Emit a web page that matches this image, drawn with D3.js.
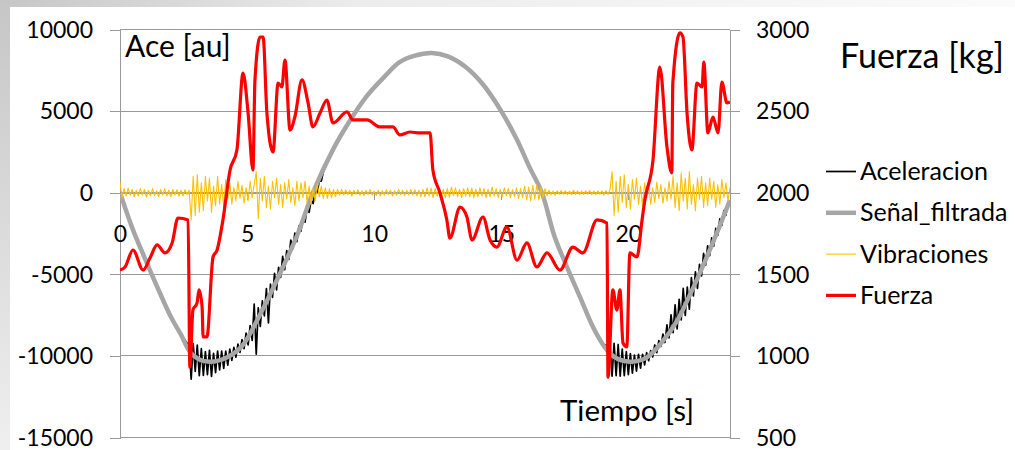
<!DOCTYPE html>
<html><head><meta charset="utf-8">
<script src="https://cdn.jsdelivr.net/npm/d3@7"></script>
<style>body{margin:0;background:#fff;} svg{display:block;} text{font-family:Lato,"Open Sans",sans-serif;fill:#000;}</style>
</head><body>
<svg id="c" width="1015" height="450"></svg>
<script>
// ---------------- data ----------------
const leftTicks = [-15000, -10000, -5000, 0, 5000, 10000];
const rightTicks = [500, 1000, 1500, 2000, 2500, 3000];
const xTicks = [0, 5, 10, 15, 20];
const seriesNames = ["Aceleracion", "Señal_filtrada", "Vibraciones", "Fuerza"];

// Señal_filtrada (left axis)
const filtT = [0,0.5,1.0,1.5,2.0,2.4,2.75,3.1,3.54,4.2,4.8,5.5,6.4,7.0,7.59,8.4,9.0,9.7,10.4,11.0,11.6,12.27,12.9,13.6,14.3,15.0,15.6,16.1,16.6,17.1,17.6,18.1,18.6,19.0,19.28,19.6,20.1,20.7,21.3,21.9,22.5,23.0,23.5,24.0];
const filtV = [0,-2230,-4100,-5900,-7600,-8700,-9750,-10200,-10360,-10100,-9400,-7500,-4600,-2500,0,2700,4300,5900,7100,8000,8400,8560,8350,7700,6600,5000,3300,1600,0,-2700,-4600,-6400,-8200,-9300,-9850,-10200,-10360,-10120,-9200,-7900,-6000,-4250,-2400,-450];

// Aceleracion (left axis)
const accHeadT = [0,0.5,1.0,1.5,2.0,2.4];
const accHeadV = [0,-2230,-4100,-5900,-7600,-8700];
const accSeg1Start = 2.72, accSeg2Start = 19.28, accStep = 0.08;
const accSeg1V = [-9400,-11430,-9250,-10950,-9340,-11210,-9560,-11200,-9730,-11150,
  -9660,-11260,-9850,-11030,-9700,-10860,-9710,-10760,-9710,-10560,
  -9580,-10280,-9480,-10080,-9280,-9780,-9000,-9550,-8600,-9330,
  -8150,-9050,-6830,-9900,-7050,-8200,-6630,-7550,-5870,-7980,
  -5600,-6420,-4940,-5950,-4570,-5190,-3900,-4720,-3550,-4080,
  -2900,-3430,-2470,-3000,-2030,-2360,-1490,-1810,-980,-1200,
  -460,-670,150,50,710,710,1260];
const accMidT = [8.4,9.0,9.7,10.4,11.0,11.6,12.27,12.9,13.6,14.3,15.0,15.6,16.1,16.6,17.1,17.6,18.1,18.6,19.0];
const accMidV = [2750,4250,5950,7050,8050,8350,8600,8300,7750,6550,5050,3250,1650,-50,-2650,-4650,-6350,-8250,-9300];
const accSeg2V = [-9350,-11240,-9230,-11210,-9300,-11240,-9580,-11210,-9730,-11150,
  -9860,-11060,-9950,-10930,-9900,-10750,-9900,-10550,-9800,-10300,
  -9680,-10060,-9330,-9800,-9060,-9420,-8660,-9180,-8100,-8900,
  -7490,-8580,-6870,-8350,-6530,-7800,-5860,-7520,-5780,-7140,
  -5200,-6330,-4850,-5870,-4390,-5100,-3720,-4440,-3250,-3860,
  -2770,-3280,-2190,-2600,-1600,-2000,-1090,-1380,-570,-550];

// Vibraciones (left axis), sampled every 0.08 s from t = 0
const vibStep = 0.08;
const vibV = [650,-300,250,-200,280,-150,200,-250,150,-200,
  250,-150,200,-280,150,-200,250,-180,120,-250,
  200,-150,250,-200,150,-250,200,-150,180,-220,
  150,-200,180,-120,150,-1650,1000,-1400,1100,-1200,
  600,-1100,1000,-500,900,-1200,400,-800,1000,-700,
  500,-900,800,-400,600,-700,300,-500,700,-350,
  450,-650,300,-500,700,-300,500,1300,-1600,900,
  -500,1000,-900,400,-1000,700,-300,900,-700,500,
  -900,600,-400,800,-600,300,-800,700,-500,600,
  -300,700,-600,400,-700,300,-500,550,-250,400,
  -350,300,-350,250,-300,200,-250,200,-150,200,
  -150,180,-120,150,-200,150,-100,180,-150,120,
  -180,150,-120,200,-150,100,-180,150,-200,120,
  -150,180,-100,150,-200,120,-150,200,-120,150,
  -180,150,-120,200,-150,180,-200,150,-250,200,
  -250,300,-200,280,-300,250,-220,300,-280,200,
  -300,250,-280,350,-200,300,-250,200,-300,250,
  -200,300,-250,280,-300,200,-250,300,-200,250,
  -300,200,-250,350,-200,250,-300,200,-250,300,
  -200,250,-300,200,-250,300,-350,250,-300,400,
  -450,350,-500,450,-400,500,-450,350,-300,250,
  -200,150,-120,100,-150,120,-100,130,-100,120,
  -130,100,-120,150,-100,120,-130,100,-110,120,
  -100,130,-120,100,-130,110,-100,120,-150,130,
  -120,200,1300,-1400,700,-1200,1000,-600,1100,-900,
  500,-1000,800,-400,900,-700,400,-800,600,-300,
  500,-700,300,-600,650,-350,500,-650,300,-500,
  700,-400,1000,-900,600,-1100,1200,-500,900,-1000,
  1300,-700,500,-1100,900,-400,1000,-900,600,-800,
  900,-400,700,-900,500,-700,800,-300,600,-500,
  300];

// Fuerza (right axis, kg)
const fuerzaT = [0,0.2,0.51,0.91,1.18,1.46,1.77,2.05,2.28,2.68,
  2.75,2.87,3.03,3.11,3.23,3.27,3.42,3.66,3.82,4.05,
  4.33,4.6,4.84,5.04,5.23,5.31,5.51,5.63,5.78,6.02,
  6.22,6.37,6.49,6.69,6.88,7.16,7.4,7.59,7.87,8.14,
  8.38,8.93,9.17,9.72,10.23,10.74,11.01,11.41,11.8,12.2,
  12.31,12.59,12.86,12.98,13.38,13.65,13.85,14.28,14.56,14.83,
  15.22,15.62,16.01,16.4,16.8,17.31,17.82,18.21,18.77,19.16,
  19.2,19.39,19.55,19.67,19.79,19.94,20.06,20.34,20.54,20.65,
  20.97,21.24,21.52,21.71,21.75,22.03,22.15,22.31,22.5,22.7,
  22.9,22.97,23.13,23.33,23.53,23.68,23.88,24.0];
const fuerzaV = [1526,1545,1649,1526,1600,1680,1631,1692,1845,1833,
  932,1281,1324,1404,1300,1116,1116,1606,1649,1833,
  2139,2262,2733,2488,2139,2691,2954,2954,2488,2249,
  2672,2648,2813,2384,2464,2691,2550,2403,2488,2568,
  2427,2495,2446,2446,2403,2403,2354,2372,2366,2366,
  2139,1998,1833,1722,1912,1851,1710,1851,1710,1667,
  1790,1587,1692,1545,1631,1526,1667,1631,1833,1814,
  870,1404,1281,1404,1079,1055,1631,1606,1833,1955,
  2200,2770,2280,2121,2672,2979,2954,2488,2262,2672,
  2648,2801,2366,2464,2366,2678,2550,2556];

// ---------------- chart ----------------
const svg = d3.select("#c");
const W = 1015, H = 450;
const plot = {left: 120, right: 730, top: 29.5, bottom: 437.5};

// slide-like frame
const defs = svg.append("defs");
const g1 = defs.append("linearGradient").attr("id","topg").attr("x1","0").attr("x2","1").attr("y1","0").attr("y2","0");
g1.append("stop").attr("offset","0").attr("stop-color","#c6c6c6");
g1.append("stop").attr("offset","0.35").attr("stop-color","#ececec");
g1.append("stop").attr("offset","1").attr("stop-color","#fbfbfb");
const g2 = defs.append("linearGradient").attr("id","leftg").attr("x1","0").attr("x2","0").attr("y1","0").attr("y2","1");
g2.append("stop").attr("offset","0").attr("stop-color","#c6c6c6");
g2.append("stop").attr("offset","1").attr("stop-color","#efefef");
svg.append("rect").attr("width",W).attr("height",H).attr("fill","#fff");
svg.append("rect").attr("x",0).attr("y",0).attr("width",W).attr("height",7).attr("fill","url(#topg)");
svg.append("rect").attr("x",0).attr("y",0).attr("width",10).attr("height",H).attr("fill","url(#leftg)");

const x = d3.scaleLinear().domain([0, 24]).range([plot.left, plot.right]);
const yL = d3.scaleLinear().domain([-15000, 10000]).range([plot.bottom, plot.top]);
const yR = d3.scaleLinear().domain([500, 3000]).range([plot.bottom, plot.top]);

const gridC = "#9a9a9a";
const fmt = d => String(d);
// horizontal gridlines
svg.append("g").selectAll("line").data(leftTicks).join("line")
  .attr("x1", plot.left).attr("x2", plot.right)
  .attr("y1", d => yL(d)).attr("y2", d => yL(d))
  .attr("stroke", gridC).attr("stroke-width", 1).attr("shape-rendering","crispEdges");

// left axis
const axL = svg.append("g").attr("transform", `translate(${plot.left},0)`)
  .call(d3.axisLeft(yL).tickValues(leftTicks).tickSize(10).tickPadding(17).tickFormat(fmt));
// right axis
const axR = svg.append("g").attr("transform", `translate(${plot.right},0)`)
  .call(d3.axisRight(yR).tickValues(rightTicks).tickSize(10).tickPadding(16).tickFormat(fmt));
// x axis at zero
const axX = svg.append("g").attr("transform", `translate(0,${yL(0)})`)
  .call(d3.axisBottom(x).tickValues(xTicks).tickSize(7).tickPadding(26).tickFormat(fmt));
[axL, axR, axX].forEach(a => {
  a.select(".domain").attr("stroke", gridC).attr("shape-rendering","crispEdges");
  a.selectAll(".tick line").attr("stroke", gridC).attr("shape-rendering","crispEdges");
  a.selectAll(".tick text").attr("font-family","Lato").attr("font-size", 23).attr("fill","#000");
});
axL.selectAll(".tick text").attr("dy", "0.34em");
axR.selectAll(".tick text").attr("dy", "0.34em");
axX.select(".domain").attr("d", `M${plot.left},0.5H${plot.right}`);
axX.selectAll(".tick").filter(d => d === 0).select("line").remove();

// clip
defs.append("clipPath").attr("id","clip").append("rect")
  .attr("x", plot.left).attr("y", plot.top - 2).attr("width", plot.right - plot.left).attr("height", plot.bottom - plot.top + 4);
const lines = svg.append("g").attr("clip-path","url(#clip)");

const accData = [
  ...accHeadT.map((t,i) => [t, accHeadV[i]]),
  ...accSeg1V.map((v,i) => [accSeg1Start + accStep*i, v]),
  ...accMidT.map((t,i) => [t, accMidV[i]]),
  ...accSeg2V.map((v,i) => [accSeg2Start + accStep*i, v])
];
const filtData = filtT.map((t,i) => [t, filtV[i]]);
const vibData = vibV.map((v,i) => [vibStep*i, v]);
const fuerzaData = fuerzaT.map((t,i) => [t, fuerzaV[i]]);

const lineL = d3.line().x(d => x(d[0])).y(d => yL(d[1]));
const lineLSmooth = d3.line().x(d => x(d[0])).y(d => yL(d[1])).curve(d3.curveCatmullRom.alpha(0.5));
const lineR = d3.line().x(d => x(d[0])).y(d => yR(d[1])).curve(d3.curveMonotoneX);

const styles = [
  {color:"#000000", width:1.7},
  {color:"#a6a6a6", width:4.5},
  {color:"#ffc000", width:1.1},
  {color:"#ff0000", width:3.2}
];
lines.append("path").datum(accData).attr("d", lineL).attr("fill","none")
  .attr("stroke", styles[0].color).attr("stroke-width", styles[0].width).attr("stroke-linejoin","round");
lines.append("path").datum(filtData).attr("d", lineLSmooth).attr("fill","none")
  .attr("stroke", styles[1].color).attr("stroke-width", styles[1].width).attr("stroke-linejoin","round");
lines.append("path").datum(vibData).attr("d", lineL).attr("fill","none")
  .attr("stroke", styles[2].color).attr("stroke-width", styles[2].width).attr("stroke-linejoin","round");
lines.append("path").datum(fuerzaData).attr("d", lineR).attr("fill","none")
  .attr("stroke", styles[3].color).attr("stroke-width", styles[3].width).attr("stroke-linejoin","round");

// axis titles
svg.append("text").attr("x", 125).attr("y", 57).attr("font-size", 30).text("Ace [au]");
svg.append("text").attr("x", 560).attr("y", 421).attr("font-size", 29.5).text("Tiempo [s]");
svg.append("text").attr("x", 840).attr("y", 68).attr("font-size", 34).text("Fuerza [kg]");

// legend
const leg = svg.append("g");
seriesNames.forEach((name, i) => {
  const by = 180 + i * 41.3;
  leg.append("line").attr("x1", 826).attr("x2", 856).attr("y1", by - 8.5).attr("y2", by - 8.5)
    .attr("stroke", styles[i].color).attr("stroke-width", styles[i].width);
  leg.append("text").attr("x", 860).attr("y", by).attr("font-size", 25).text(name);
});
</script>
</body></html>
